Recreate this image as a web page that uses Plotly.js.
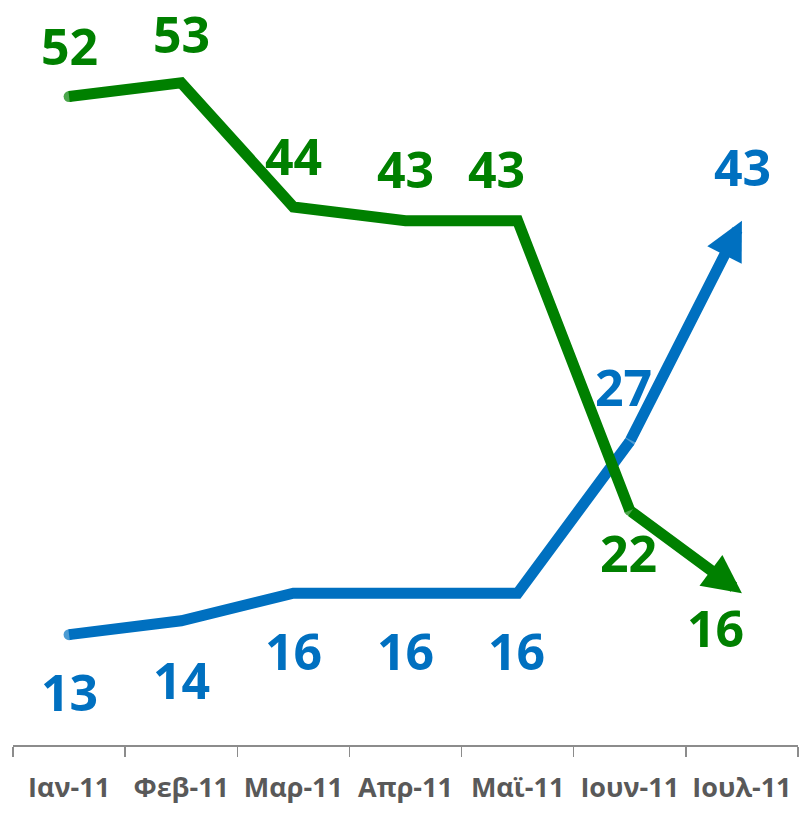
<!DOCTYPE html>
<html>
<head>
<meta charset="utf-8">
<script src="https://cdn.plot.ly/plotly-3.0.1.min.js"></script>
<style>
  html, body { margin: 0; padding: 0; background: #fff; }
  #chart { width: 800px; height: 813px; }
</style>
</head>
<body>
<div id="chart"></div>
<script>
// Δεδομένα
const months = ["Ιαν-11", "Φεβ-11", "Μαρ-11", "Απρ-11", "Μαϊ-11", "Ιουν-11", "Ιουλ-11"];
const greenVals = [52, 53, 44, 43, 43, 22, 16];
const blueVals = [13, 14, 16, 16, 16, 27, 43];

// Μετατόπιση ετικετών (px)
const greenShiftX = [0, 0, 0, 0, -21, -1, -26];
const greenShiftY = [51, 49, 51, 52, 52, -43, -35];
const blueShiftX = [0, 0, 0, 0, -1, -6, 1];
const blueShiftY = [-57, -59, -58, -58, -58, 54, 54];

const GREEN = "#008000";
const BLUE = "#0070C0";
const last = months.length - 1;

// Στρογγυλά άκρα στην αρχή και στη σύνδεση με το βέλος
const capSizes = [11, 0, 0, 0, 0, 11];

function lineTrace(vals, color) {
  return {
    x: months.slice(0, last),
    y: vals.slice(0, last),
    type: "scatter",
    mode: "lines+markers",
    line: { color: color, width: 11 },
    marker: { color: color, size: capSizes, line: { width: 0 } },
    hoverinfo: "skip",
    showlegend: false,
  };
}

function arrow(vals, color) {
  return {
    x: last, y: vals[last], xref: "x", yref: "y",
    ax: last - 1, ay: vals[last - 1], axref: "x", ayref: "y",
    text: "", showarrow: true,
    arrowhead: 2, arrowsize: 0.7, arrowwidth: 11, arrowcolor: color,
    standoff: 0, startstandoff: 0,
  };
}

function labels(vals, color, sx, sy) {
  return vals.map((v, i) => ({
    x: i, y: v, xref: "x", yref: "y",
    text: String(v), showarrow: false,
    xshift: sx[i], yshift: sy[i],
    font: { family: "Open Sans", size: 50, color: color, weight: "bold" },
  }));
}

const layout = {
  width: 800,
  height: 813,
  margin: { l: 13, r: 2, t: 0, b: 68 },
  paper_bgcolor: "#fff",
  plot_bgcolor: "#fff",
  xaxis: {
    type: "category",
    categoryarray: months,
    range: [-0.5, 6.5],
    showgrid: false,
    zeroline: false,
    showline: true,
    linecolor: "#8c8c8c",
    linewidth: 1.5,
    ticks: "outside",
    ticklen: 10,
    tickwidth: 1.5,
    tickcolor: "#8c8c8c",
    tickson: "boundaries",
    ticklabelstandoff: 18,
    tickfont: { family: "Open Sans", size: 27, color: "#595959", weight: "bold" },
    fixedrange: true,
  },
  yaxis: {
    range: [5, 59],
    visible: false,
    fixedrange: true,
  },
  annotations: [
    arrow(greenVals, GREEN),
    arrow(blueVals, BLUE),
    ...labels(greenVals, GREEN, greenShiftX, greenShiftY),
    ...labels(blueVals, BLUE, blueShiftX, blueShiftY),
  ],
};

Plotly.newPlot("chart", [lineTrace(blueVals, BLUE), lineTrace(greenVals, GREEN)], layout, {
  displayModeBar: false,
  staticPlot: true,
});
</script>
</body>
</html>
